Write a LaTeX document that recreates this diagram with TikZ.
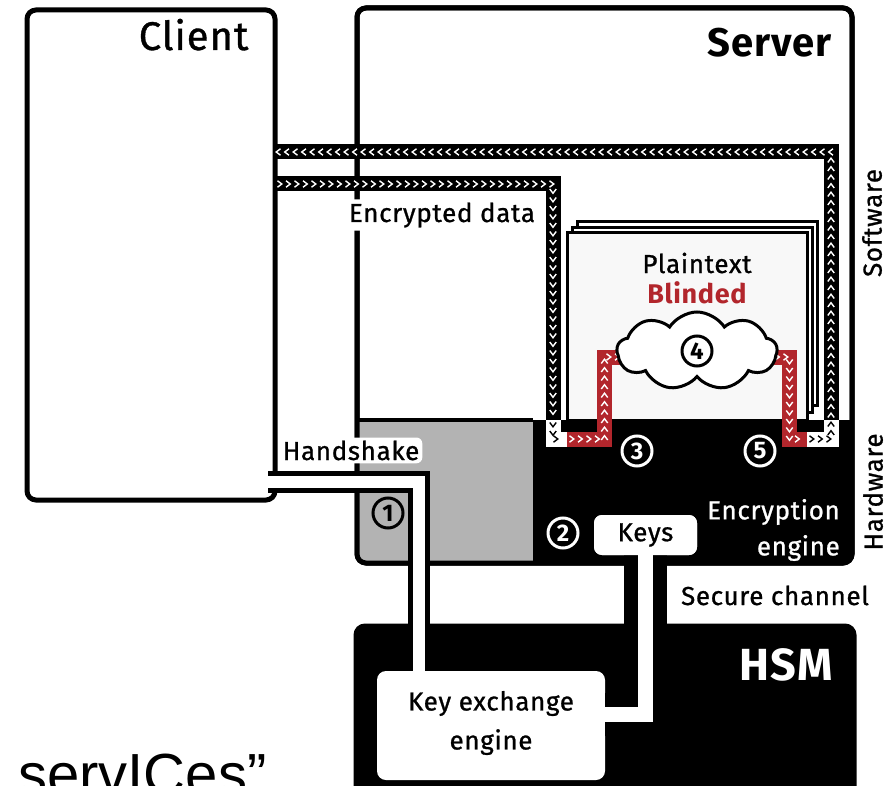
\documentclass[tikz,border=0pt]{standalone}
\usepackage{fontspec}
\setmainfont{Fira Sans}[UprightFeatures={FakeBold=0.9}, LetterSpace=2.5]
\newfontfamily\quotefont{Liberation Sans}
\usetikzlibrary{shapes.symbols,decorations.markings}
\definecolor{hatRed}{RGB}{178,38,44}
\definecolor{hwGrey}{RGB}{179,179,179}
\definecolor{paper}{RGB}{248,248,248}

\begin{document}
\begin{tikzpicture}[x=1pt, y=-1pt,
        every node/.style={font=\fontsize{26}{36}\selectfont},
        frame/.style={
            rectangle, draw = black, line width = 5pt, rounded corners = 9pt, outer sep = 0pt, inner sep = 0pt
        },
        title/.style={anchor = base east, font = \fontsize{40}{40}\selectfont},
        tag/.style={anchor = base, fill = white, rounded corners = 6pt, inner sep = 3pt},
        sheet/.style={draw = black, line width = 3pt, fill = #1},
        num/.style={
            circle, draw = #1, text = #1, line width = 3pt, minimum size = 30pt, inner sep = 0pt,
            font = \bfseries\fontsize{24}{24}\selectfont
        },
        chev/.style={postaction={decorate, decoration={markings,
            mark=between positions 5pt and -3pt step 8.5pt with {\draw[#1, line width = 1.4pt] (-2.5pt,3.2pt) -- (1.8pt,0pt) -- (-2.5pt,-3.2pt);}}}},
        flow/.style={draw = #1, line width = 15pt, line join = miter},
        pipe/.style={draw = black, double = white, line join = miter},
    ]
        \useasboundingbox (0,0) rectangle (891,786);

        \node (client) [frame, fill=white, minimum width=248pt, minimum height=490pt] at (151,255) {};
        \node (clientTitle) [title] at (252,50) {Client};

        \node (server) [frame, fill=white, minimum width=495pt, minimum height=555pt] at (604.5,285.5) {};
        \begin{scope}
            \clip[rounded corners=9pt] (server.north west) rectangle (server.south east);
            \fill[hwGrey] (357,420) rectangle (533,563);
            \fill[black] (533,420) rectangle (852,563);
        \end{scope}
        \draw[line width=4pt] (357,420) -- (533,420);
        \draw[line width=5pt, rounded corners=9pt] (server.north west) rectangle (server.south east);
        \node (serverTitle) [title, font=\bfseries\fontsize{40}{40}\selectfont] at (835,57) {Server};

        \node (hsm) [frame, fill=black, minimum width=498pt, minimum height=210pt] at (605,731) {};
        \node (hsmTitle) [title, text=white, font=\bfseries\fontsize{45}{45}\selectfont] at (836,680) {HSM};
        \node (keyExchange) [fill=white, rounded corners=9pt, minimum width=228pt, minimum height=109pt, inner sep=0pt] at (491,725.5) {};
        \node (keyExchangeText) [align=center, inner sep=0pt, font=\fontsize{26}{39}\selectfont] at (491,723) {Key exchange\\engine};

        \coordinate (hsIn) at (268,481.5);
        \coordinate (hsBend) at (419,481.5);
        \coordinate (scLevel) at (645.5,714);
        \node (keys) [fill=white, rounded corners=8pt, minimum width=103pt, minimum height=40pt, inner sep=0pt] at (645.5,535) {};
        \draw[pipe, line width=5pt, double distance=12pt] (hsIn) -- (hsBend) -- (hsBend |- keyExchange.north);
        \draw[pipe, line width=14pt, double distance=15pt] (keys.south) -- (scLevel) -- (keyExchange.east |- scLevel);
        \node (keysText) [fill=white, rounded corners=8pt, minimum width=103pt, minimum height=40pt, inner sep=0pt] at (keys) {Keys};

        \draw[sheet=white] (577,222) rectangle (817,405);
        \draw[sheet=white] (572,228) rectangle (812,412);
        \draw[sheet=paper] (567,233) rectangle (807,420);

        \coordinate (inA) at (275,184);
        \coordinate (inB) at (553,184);
        \coordinate (inC) at (553,420);
        \coordinate (inD) at (553,439);
        \coordinate (inE) at (567,439);
        \coordinate (inF) at (604.5,439);
        \coordinate (inG) at (604.5,357);
        \coordinate (inH) at (630,357);
        \coordinate (outA) at (764,357);
        \coordinate (outB) at (789.5,357);
        \coordinate (outC) at (789.5,439);
        \coordinate (outD) at (807,439);
        \coordinate (outE) at (831,439);
        \coordinate (outF) at (831,420);
        \coordinate (outG) at (831,152);
        \coordinate (outH) at (275,152);
        \draw[flow=black, chev=white] (inA) -- (inB) -- (inC);
        \draw[flow=white, chev=black] (inC) -- (inD) -- (inE);
        \draw[flow=hatRed, chev=white] (inE) -- (inF) -- (inG) -- (inH);
        \draw[flow=hatRed, chev=white] (outA) -- (outB) -- (outC) -- (outD);
        \draw[flow=white, chev=black] (outD) -- (outE) -- (outF);
        \draw[flow=black, chev=white] (outF) -- (outG) -- (outH);

        \node (blur) [cloud, cloud puffs=9, cloud puff arc=115, cloud ignores aspect, draw, line width=3pt, fill=white, minimum width=160pt, minimum height=78pt] at (697,351) {};
        \node (stepFour) [num=black] at (blur.center) {4};

        \node (plainText) [anchor=base] at (697,273) {Plaintext};
        \node (blinded) [anchor=base, text=hatRed, font=\bfseries\fontsize{27}{30}\selectfont] at (697,303) {Blinded};
        \node (encData) [tag] at (442,222) {Encrypted data};
        \node (handshake) [tag] at (351,460) {Handshake};
        \node (encEngine) [anchor=east, align=right, text=white, inner sep=0pt] at (840,530) {Encryption\\engine};
        \node (secureChannel) [anchor=base] at (775,605) {Secure channel};

        \node (stepOne) [num=black] at (388,513) {1};
        \node (stepTwo) [num=white] at (563,533) {2};
        \node (stepThree) [num=white] at (637,451) {3};
        \node (stepFive) [num=white] at (760,451) {5};

        \node (software) [rotate=90] at (872,223) {Software};
        \node (hardware) [rotate=90] at (873,492) {Hardware};

        \node (quoteTail) [anchor=base west, inner sep=0pt, font=\quotefont\fontsize{58}{58}\selectfont] at (18,794) {servICes”};
    \end{tikzpicture}
\end{document}
